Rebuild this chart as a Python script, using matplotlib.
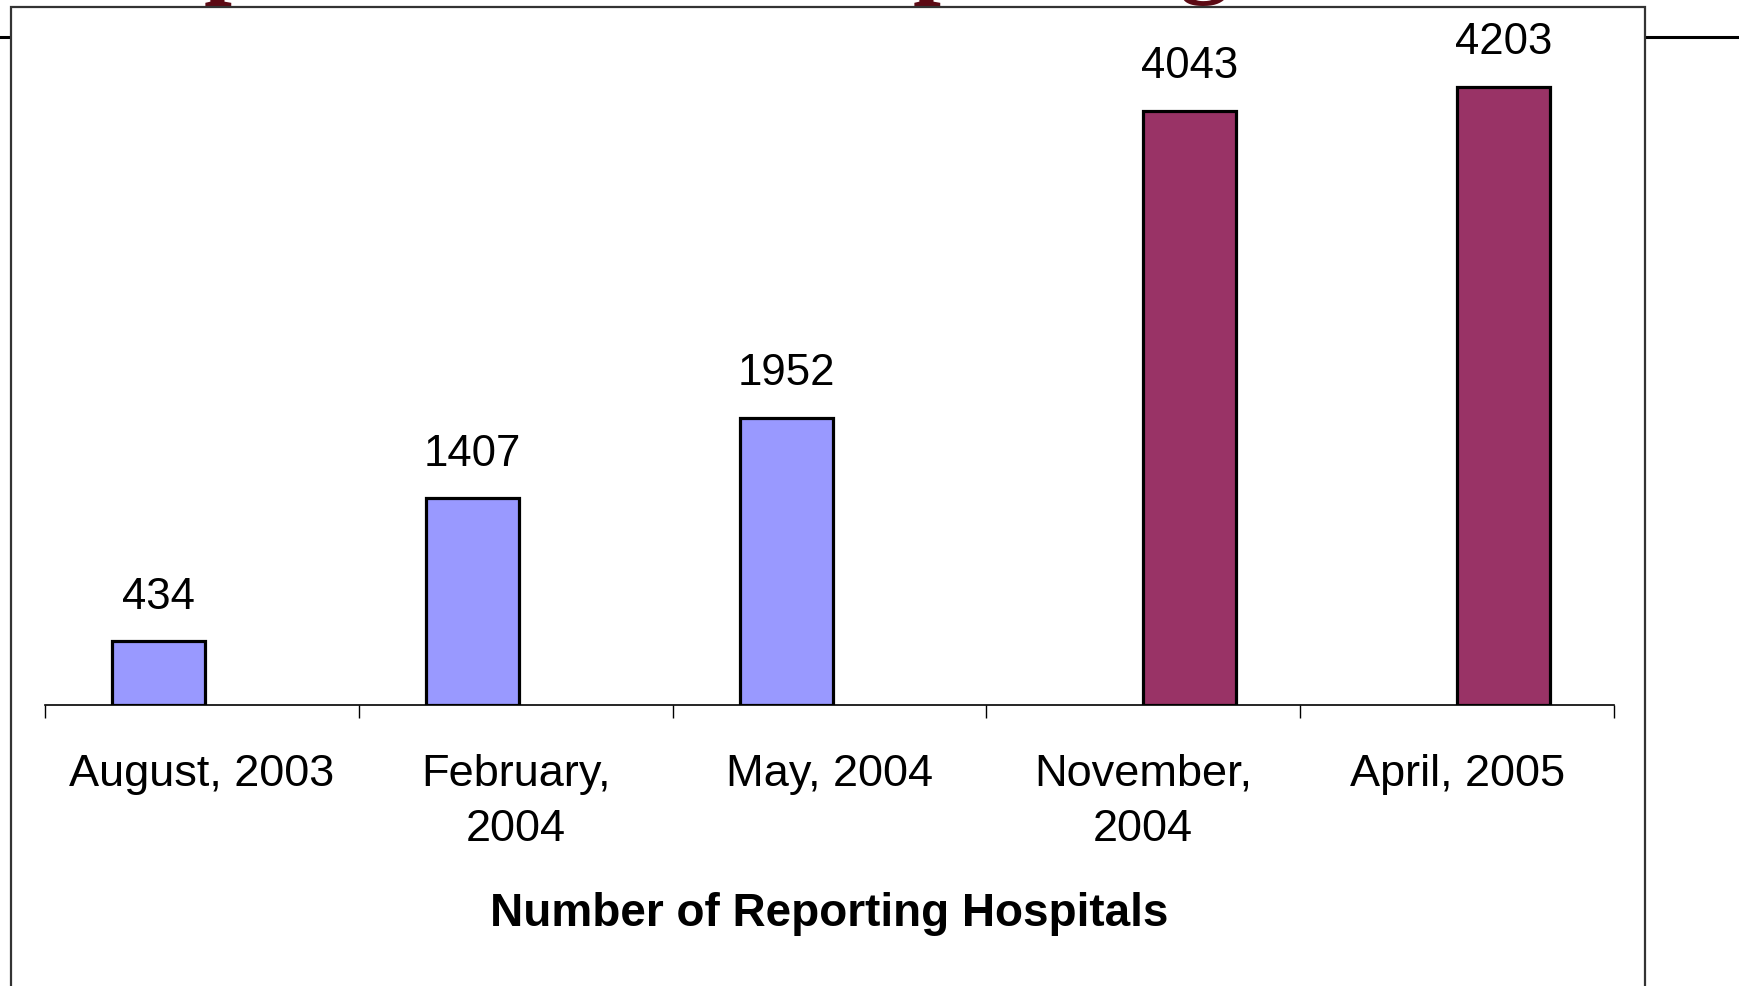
import numpy as np
import matplotlib
matplotlib.use("Agg")
from matplotlib import pyplot as plt
from matplotlib.patches import Rectangle
from matplotlib.lines import Line2D

# data
categories = ["August, 2003", "February,\n2004", "May, 2004", "November,\n2004", "April, 2005"]
early = [434, 1407, 1952, np.nan, np.nan]      # blue series
late = [np.nan, np.nan, np.nan, 4043, 4203]    # maroon series
title = "Improvement in Reporting"
xlabel = "Number of Reporting Hospitals"

plt.rcParams['font.family'] = ['Liberation Sans', 'DejaVu Sans']

W, H = 1739, 986
fig = plt.figure(figsize=(W / 100, H / 100), dpi=100)

# slide background bits: rule line, title hidden behind the chart box
fig.add_artist(Line2D([0, 1], [1 - 37 / H, 1 - 37 / H], color='black', lw=2.2, zorder=-3))
fig.text(82 / W, 1 + 15 / H, title, ha='left', va='baseline', fontsize=72,
         family='Liberation Serif', weight='bold', color='#5C0A14', zorder=-2)
fig.add_artist(Rectangle((11 / W, -0.05), (1645 - 11) / W, 1.05 - 7 / H,
                         facecolor='white', edgecolor='#333333', lw=1.6, zorder=-1))

ax = fig.add_axes([45 / W, 1 - 705 / H, (1614 - 45) / W, 691 / H])
ax.patch.set_visible(False)

x = np.arange(len(categories))
w = 0.295
b1 = ax.bar(x - w / 2 + 0.01, early, w, color='#9999FF', edgecolor='black', lw=2.3)
b2 = ax.bar(x + w / 2, late, w, color='#993366', edgecolor='black', lw=2.3)
ax.bar_label(b1, fmt='%d', padding=17, fontsize=31.5)
ax.bar_label(b2, fmt='%d', padding=17, fontsize=31.5)

ax.set_xlim(-0.5, len(categories) - 0.5)
ax.set_ylim(0, 4700)
ax.set_yticks([])
for s in ['left', 'right', 'top']:
    ax.spines[s].set_visible(False)
ax.spines['bottom'].set_linewidth(1.2)

ax.set_xticks(x)
ax.set_xticklabels(categories, fontsize=32.5, linespacing=1.45)
ax.tick_params(axis='x', which='major', length=0, pad=35)
ax.set_xticks(np.arange(len(categories) + 1) - 0.5, minor=True)
ax.tick_params(axis='x', which='minor', length=9.5, width=1.0, color='black')

ax.set_xlabel(xlabel, fontsize=33, weight='bold', labelpad=30)

fig.savefig("out.png", dpi=100)
